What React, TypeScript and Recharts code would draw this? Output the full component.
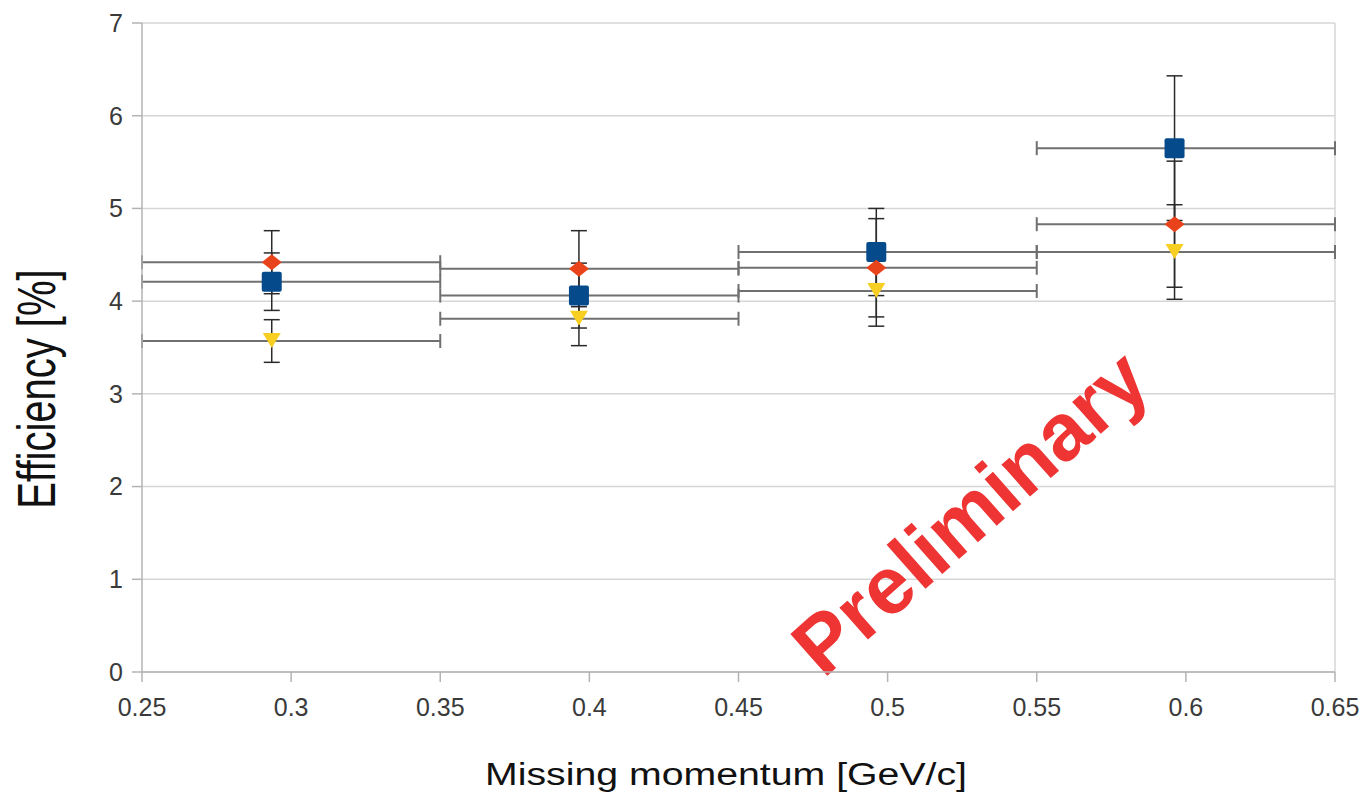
import React from 'react';
import { ScatterChart, Scatter, XAxis, YAxis, CartesianGrid, ErrorBar, ReferenceLine } from 'recharts';

const xCenters = [0.2935, 0.3965, 0.4962, 0.5962];
const binLow = [0.25, 0.35, 0.45, 0.55];
const binHigh = [0.35, 0.45, 0.55, 0.65];
const squareValues = [4.21, 4.06, 4.53, 5.65];
const squareErrors = [0.31, 0.35, 0.47, 0.78];
const diamondValues = [4.42, 4.35, 4.36, 4.83];
const diamondErrors = [0.34, 0.41, 0.53, 0.68];
const triangleValues = [3.57, 3.81, 4.11, 4.53];
const triangleErrors = [0.23, 0.29, 0.38, 0.51];
const xTicks = [0.25, 0.3, 0.35, 0.4, 0.45, 0.5, 0.55, 0.6, 0.65];
const yTicks = [0, 1, 2, 3, 4, 5, 6, 7];

const build = (vals: number[], errs: number[]) =>
  vals.map((v, i) => ({
    x: xCenters[i],
    y: v,
    ex: [xCenters[i] - binLow[i], binHigh[i] - xCenters[i]],
    ey: errs[i],
  }));

const squareData = build(squareValues, squareErrors);
const diamondData = build(diamondValues, diamondErrors);
const triangleData = build(triangleValues, triangleErrors);

const FONT = '"Liberation Sans", Arial, sans-serif';

const Square = (p: any) => (
  <rect x={p.cx - 10} y={p.cy - 10} width={20} height={20} rx={2} fill="#054a8a" />
);
const Diamond = (p: any) => (
  <polygon
    points={`${p.cx},${p.cy - 8} ${p.cx + 10},${p.cy} ${p.cx},${p.cy + 8} ${p.cx - 10},${p.cy}`}
    fill="#e8431a"
  />
);
const Triangle = (p: any) => (
  <polygon
    points={`${p.cx - 9},${p.cy - 8} ${p.cx + 9},${p.cy - 8} ${p.cx},${p.cy + 7}`}
    fill="#f7cf22"
  />
);
const Empty = () => <g />;

const errH = { stroke: '#707070', strokeWidth: 2, width: 7 };
const errV = { stroke: '#2a2a2a', strokeWidth: 1.5, width: 8 };

export default function App() {
  return (
    <div style={{ position: 'absolute', left: 0, top: 0, background: '#fff' }}>
      <ScatterChart
        width={1366}
        height={799}
        margin={{ top: 23, right: 31, left: 0, bottom: 67 }}
        style={{ fontFamily: FONT }}
      >
        <CartesianGrid vertical={false} stroke="#d6d6d6" strokeWidth={1.5} />
        <XAxis
          type="number"
          dataKey="x"
          domain={[0.25, 0.65]}
          ticks={xTicks}
          height={60}
          tickSize={10}
          tickMargin={16}
          stroke="#b3b3b3"
          strokeWidth={1.5}
          tick={{ fill: '#3a3a3a', fontSize: 25, fontFamily: FONT }}
          allowDataOverflow
        />
        <YAxis
          type="number"
          dataKey="y"
          domain={[0, 7]}
          ticks={yTicks}
          width={142}
          tickSize={10}
          tickMargin={9}
          stroke="#b3b3b3"
          strokeWidth={1.5}
          tick={{ fill: '#3a3a3a', fontSize: 25, fontFamily: FONT }}
          allowDataOverflow
        />
        <ReferenceLine x={0.65} stroke="#d6d6d6" strokeWidth={1.5} />
        <Scatter data={squareData} shape={Square} isAnimationActive={false} />
        <Scatter data={diamondData} shape={Diamond} isAnimationActive={false} />
        <Scatter data={triangleData} shape={Triangle} isAnimationActive={false} />
        <Scatter data={squareData} shape={Empty} isAnimationActive={false}>
          <ErrorBar dataKey="ex" direction="x" {...errH} />
          <ErrorBar dataKey="ey" direction="y" {...errV} />
        </Scatter>
        <Scatter data={diamondData} shape={Empty} isAnimationActive={false}>
          <ErrorBar dataKey="ex" direction="x" {...errH} />
          <ErrorBar dataKey="ey" direction="y" {...errV} />
        </Scatter>
        <Scatter data={triangleData} shape={Empty} isAnimationActive={false}>
          <ErrorBar dataKey="ex" direction="x" {...errH} />
          <ErrorBar dataKey="ey" direction="y" {...errV} />
        </Scatter>
        <text
          x={726}
          y={785}
          textAnchor="middle"
          fontSize={31}
          fontFamily={FONT}
          fill="#111"
          textLength={482}
          lengthAdjust="spacingAndGlyphs"
        >
          Missing momentum [GeV/c]
        </text>
        <text
          transform="translate(55,389) scale(1.33,1) rotate(-90)"
          textAnchor="middle"
          fontSize={40}
          fontFamily={FONT}
          fill="#111"
        >
          Efficiency [%]
        </text>
        <text
          transform="translate(970,512) rotate(-41.5)"
          textAnchor="middle"
          dominantBaseline="central"
          fontSize={81}
          fontWeight="bold"
          fontFamily={FONT}
          fill="#ef3434"
        >
          Preliminary
        </text>
      </ScatterChart>
    </div>
  );
}
